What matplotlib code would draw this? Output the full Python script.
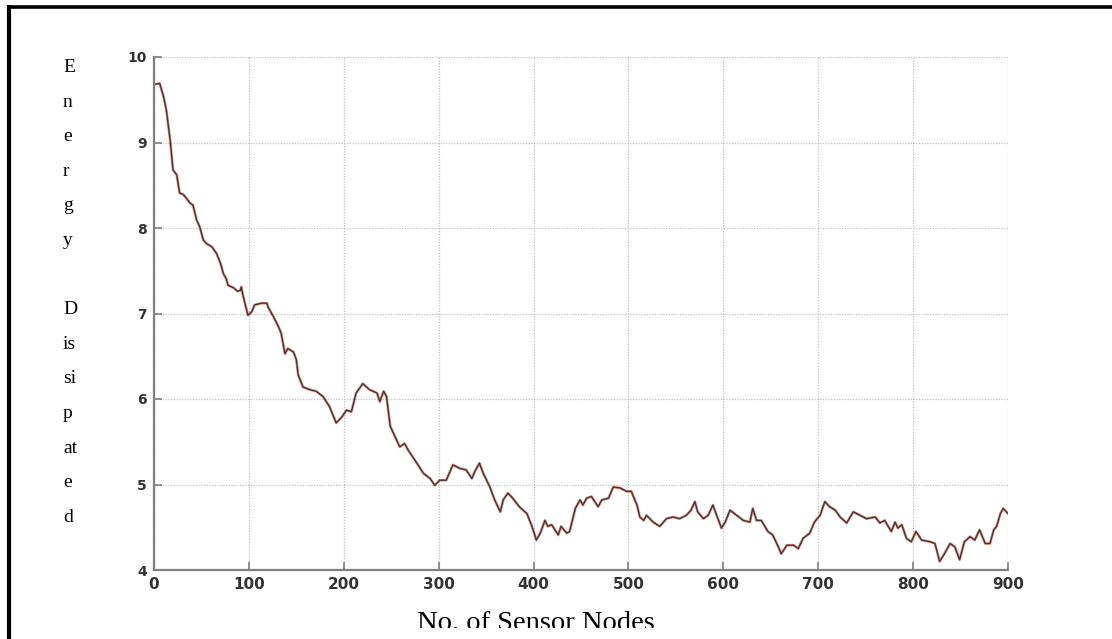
import matplotlib
matplotlib.use("Agg")
import matplotlib.pyplot as plt
from matplotlib.lines import Line2D
from matplotlib.patches import Rectangle

# sampled trace of energy dissipated vs. number of sensor nodes
nodes = [0, 6, 10, 13, 17, 20, 24, 27, 31, 34, 38, 41, 45, 48, 52, 55, 61, 66,
         70, 73, 76, 78, 84, 88, 91, 92, 94, 99, 103, 106, 113, 119, 120, 126,
         131, 134, 138, 141, 147, 150, 152, 157, 164, 171, 178, 185, 192, 198,
         203, 208, 213, 220, 227, 235, 238, 242, 245, 249, 254, 259, 264, 268,
         277, 284, 291, 296, 301, 308, 315, 322, 329, 335, 338, 343, 347, 354,
         359, 365, 368, 373, 378, 385, 393, 398, 403, 407, 412, 415, 419, 426,
         429, 435, 438, 444, 449, 452, 456, 461, 468, 472, 479, 484, 491, 498,
         503, 509, 512, 516, 519, 526, 533, 540, 547, 554, 561, 566, 570, 573,
         579, 584, 589, 593, 598, 602, 607, 614, 621, 628, 631, 635, 640, 647,
         652, 658, 661, 667, 674, 679, 684, 691, 696, 702, 707, 712, 718, 723,
         730, 737, 744, 751, 760, 765, 770, 777, 781, 784, 788, 793, 798, 803,
         809, 818, 823, 828, 833, 839, 844, 849, 854, 860, 865, 870, 876, 881,
         885, 888, 892, 895, 900]
energy = [9.68, 9.69, 9.54, 9.38, 9.03, 8.68, 8.62, 8.41, 8.39, 8.35, 8.29, 8.27,
          8.09, 8.02, 7.86, 7.82, 7.78, 7.70, 7.59, 7.47, 7.41, 7.33, 7.30, 7.26,
          7.27, 7.31, 7.20, 6.98, 7.02, 7.10, 7.12, 7.12, 7.08, 6.96, 6.85, 6.77,
          6.53, 6.59, 6.55, 6.46, 6.28, 6.14, 6.11, 6.09, 6.03, 5.91, 5.72, 5.79,
          5.87, 5.85, 6.07, 6.18, 6.11, 6.07, 5.97, 6.09, 6.03, 5.68, 5.56, 5.44,
          5.48, 5.40, 5.25, 5.13, 5.07, 4.99, 5.05, 5.05, 5.23, 5.19, 5.17, 5.07,
          5.15, 5.25, 5.13, 4.97, 4.82, 4.68, 4.82, 4.90, 4.84, 4.74, 4.66, 4.52,
          4.35, 4.43, 4.58, 4.51, 4.53, 4.41, 4.51, 4.43, 4.45, 4.72, 4.82, 4.76,
          4.84, 4.86, 4.74, 4.82, 4.84, 4.97, 4.96, 4.92, 4.92, 4.76, 4.62, 4.58,
          4.64, 4.56, 4.51, 4.60, 4.62, 4.60, 4.64, 4.70, 4.80, 4.68, 4.60, 4.64,
          4.76, 4.64, 4.49, 4.56, 4.70, 4.64, 4.58, 4.56, 4.72, 4.58, 4.58, 4.45,
          4.41, 4.27, 4.19, 4.29, 4.29, 4.25, 4.37, 4.43, 4.56, 4.64, 4.80, 4.74,
          4.70, 4.62, 4.55, 4.68, 4.64, 4.60, 4.62, 4.55, 4.58, 4.45, 4.56, 4.49,
          4.53, 4.37, 4.33, 4.45, 4.35, 4.33, 4.31, 4.10, 4.19, 4.31, 4.27, 4.12,
          4.33, 4.39, 4.35, 4.47, 4.31, 4.31, 4.47, 4.51, 4.66, 4.72, 4.66]

x_ticks = [0, 100, 200, 300, 400, 500, 600, 700, 800, 900]
y_ticks = [4, 5, 6, 7, 8, 9, 10]
ylabel_lines = ["E", "n", "e", "r", "g", "y", "", "D", "is", "si", "p", "at", "e", "d"]

W, H = 1112, 639
fig = plt.figure(figsize=(W / 100, H / 100), dpi=100)
fig.patch.set_facecolor("white")

ax = fig.add_axes([154 / W, 1 - 570 / H, 854 / W, 513 / H])
ax.plot(nodes, energy, color="#c0392b", lw=1.9, alpha=0.6, solid_joinstyle="round")
ax.plot(nodes, energy, color="#3d3535", lw=0.9, solid_joinstyle="round")

ax.set_xlim(0, 900)
ax.set_ylim(4, 10)
ax.set_xticks(x_ticks)
ax.set_yticks(y_ticks)
ax.grid(True, linestyle=(0, (1, 1.2)), color="#c0c0c0", lw=0.9)
ax.set_axisbelow(True)

for side in ("top", "right"):
    ax.spines[side].set_visible(False)
for side in ("left", "bottom"):
    ax.spines[side].set_color("#808080")
    ax.spines[side].set_linewidth(1.6)

ax.tick_params(direction="in", length=6, width=1.2, color="#808080")
ax.tick_params(axis="x", pad=5, labelsize=11, labelcolor="#333333")
ax.tick_params(axis="y", pad=5, labelsize=10, labelcolor="#333333")
for lbl in ax.get_xticklabels() + ax.get_yticklabels():
    lbl.set_fontweight("bold")

# vertical, letter-by-letter y label
for i, s in enumerate(ylabel_lines):
    fig.text(63 / W, 1 - (72 + 34.6 * i) / H, s, family="Liberation Serif",
             fontsize=14, ha="left", va="baseline")

fig.text(536 / W, 1 - 630 / H, "No. of Sensor Nodes", family="Liberation Serif",
         fontsize=20.5, ha="center", va="baseline")
# bottom edge cuts the x label
fig.patches.append(Rectangle((0, 0), 1, 1 - 628 / H, transform=fig.transFigure,
                             facecolor="white", edgecolor="none", zorder=10))

# outer frame on top and left
fig.add_artist(Line2D([7 / W, 1], [1 - 6.5 / H, 1 - 6.5 / H], color="black", lw=2.6,
                      transform=fig.transFigure, solid_capstyle="butt", zorder=11))
fig.add_artist(Line2D([8.5 / W, 8.5 / W], [0, 1 - 5 / H], color="black", lw=3,
                      transform=fig.transFigure, solid_capstyle="butt", zorder=11))

fig.savefig("out.png", dpi=100)
